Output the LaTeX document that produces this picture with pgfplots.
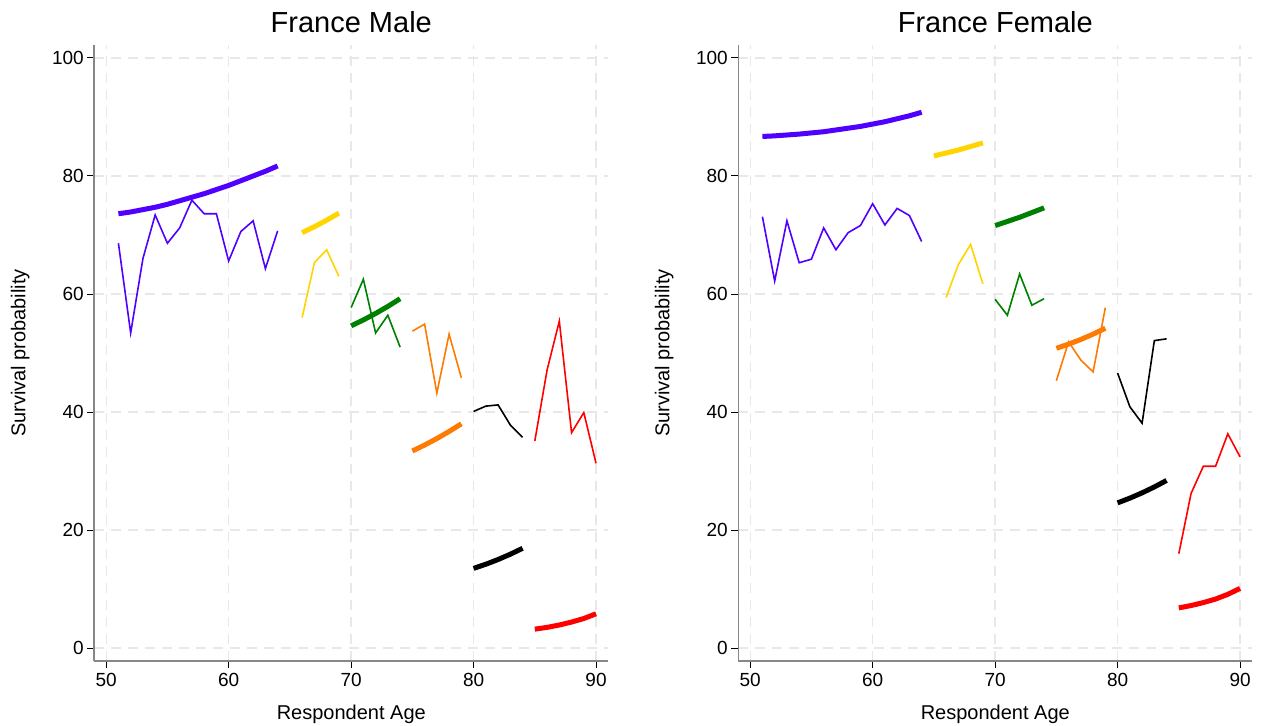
\documentclass[border=0pt]{standalone}
\usepackage{fontspec}
\setmainfont{Liberation Sans}
\usepackage{pgfplots}
\pgfplotsset{compat=1.18}
\definecolor{sblue}{RGB}{80,0,255}
\definecolor{sgold}{RGB}{255,212,0}
\definecolor{sgreen}{RGB}{0,128,0}
\definecolor{sorange}{RGB}{255,122,0}
\definecolor{sred}{RGB}{255,0,0}
\definecolor{gridc}{RGB}{232,232,232}
\definecolor{axc}{RGB}{135,135,135}
\pgfplotsset{
  panel/.style={
    scale only axis, width=514bp, height=616bp,
    xmin=49.03, xmax=91.0, ymin=-2.2, ymax=102.2,
    axis x line*=bottom, axis y line*=left,
    axis line style={axc, line width=1.6bp, -},
    xtick={50,60,...,90}, ytick={0,20,...,100},
    tick align=outside, major tick length=7bp,
    tick style={black, line width=1bp},
    grid=major,
    major grid style={gridc, dash pattern=on 10bp off 7bp, line width=1.3bp},
    ticklabel style={font=\fontsize{19bp}{22bp}\selectfont},
    xticklabel style={yshift=-2bp},
    /pgf/number format/assume math mode=true,
    xlabel={Respondent Age}, ylabel={Survival probability},
    xlabel style={at={(axis description cs:0.5,0)}, anchor=base, yshift=-58bp, font=\fontsize{20bp}{24bp}\selectfont},
    ylabel style={at={(axis description cs:0,0.5)}, anchor=center, yshift=74bp, font=\fontsize{20bp}{24bp}\selectfont},
    title style={at={(0.5,1)}, anchor=base, yshift=6.5bp, font=\fontsize{29bp}{33bp}\selectfont},
  },
  thinl/.style={line width=1.6bp, no markers},
  thickl/.style={line width=5bp, no markers},
}
\begin{document}
\begin{tikzpicture}
\path[use as bounding box] (0,0) rectangle (1264bp,-726bp);
% ---------------- Male ----------------
\begin{axis}[panel, at={(94.3bp,-661bp)}, anchor=south west, title={France Male}]
\addplot[sblue, thickl] coordinates {(51,73.6)(52,73.9)(53,74.3)(54,74.7)(55,75.2)(56,75.8)(57,76.4)(58,77.0)(59,77.7)(60,78.4)(61,79.2)(62,80.0)(63,80.8)(64,81.7)};
\addplot[sblue, thinl] coordinates {(51,68.6)(52,53.4)(53,66.0)(54,73.4)(55,68.6)(56,71.2)(57,75.9)(58,73.6)(59,73.6)(60,65.6)(61,70.6)(62,72.4)(63,64.3)(64,70.7)};
\addplot[sgold, thickl] coordinates {(66,70.4)(67,71.4)(68,72.5)(69,73.7)};
\addplot[sgold, thinl] coordinates {(66,56.0)(67,65.3)(68,67.5)(69,63.0)};
\addplot[sgreen, thickl] coordinates {(70,54.6)(71,55.6)(72,56.7)(73,57.9)(74,59.2)};
\addplot[sgreen, thinl] coordinates {(70,57.7)(71,62.5)(72,53.4)(73,56.4)(74,51.0)};
\addplot[sorange, thickl] coordinates {(75,33.4)(76,34.4)(77,35.5)(78,36.7)(79,38.0)};
\addplot[sorange, thinl] coordinates {(75,53.7)(76,54.9)(77,43.2)(78,53.2)(79,45.8)};
\addplot[black, thickl] coordinates {(80,13.5)(81,14.2)(82,15.0)(83,15.9)(84,16.9)};
\addplot[black, thinl] coordinates {(80,40.1)(81,41.0)(82,41.2)(83,37.8)(84,35.7)};
\addplot[sred, thickl] coordinates {(85,3.2)(86,3.5)(87,3.9)(88,4.4)(89,5.0)(90,5.8)};
\addplot[sred, thinl] coordinates {(85,35.1)(86,47.1)(87,55.4)(88,36.5)(89,39.9)(90,31.3)};
\end{axis}
% ---------------- Female ----------------
\begin{axis}[panel, at={(738.3bp,-661bp)}, anchor=south west, title={France Female}]
\addplot[sblue, thickl] coordinates {(51,86.7)(52,86.8)(53,86.95)(54,87.1)(55,87.3)(56,87.5)(57,87.8)(58,88.1)(59,88.4)(60,88.8)(61,89.2)(62,89.7)(63,90.2)(64,90.8)};
\addplot[sblue, thinl] coordinates {(51,73.1)(52,62.2)(53,72.4)(54,65.3)(55,65.9)(56,71.2)(57,67.5)(58,70.4)(59,71.6)(60,75.3)(61,71.7)(62,74.5)(63,73.3)(64,68.9)};
\addplot[sgold, thickl] coordinates {(65,83.4)(66,83.9)(67,84.4)(68,85.0)(69,85.6)};
\addplot[sgold, thinl] coordinates {(66,59.4)(67,65.0)(68,68.4)(69,61.7)};
\addplot[sgreen, thickl] coordinates {(70,71.6)(71,72.3)(72,73.0)(73,73.8)(74,74.6)};
\addplot[sgreen, thinl] coordinates {(70,59.1)(71,56.4)(72,63.4)(73,58.1)(74,59.2)};
\addplot[sorange, thickl] coordinates {(75,50.8)(76,51.5)(77,52.3)(78,53.2)(79,54.2)};
\addplot[sorange, thinl] coordinates {(75,45.3)(76,51.9)(77,48.8)(78,46.8)(79,57.7)};
\addplot[black, thickl] coordinates {(80,24.6)(81,25.4)(82,26.3)(83,27.3)(84,28.4)};
\addplot[black, thinl] coordinates {(80,46.6)(81,40.9)(82,38.1)(83,52.1)(84,52.4)};
\addplot[sred, thickl] coordinates {(85,6.8)(86,7.2)(87,7.7)(88,8.3)(89,9.1)(90,10.1)};
\addplot[sred, thinl] coordinates {(85,16.0)(86,26.2)(87,30.8)(88,30.8)(89,36.3)(90,32.4)};
\end{axis}
\end{tikzpicture}
\end{document}
